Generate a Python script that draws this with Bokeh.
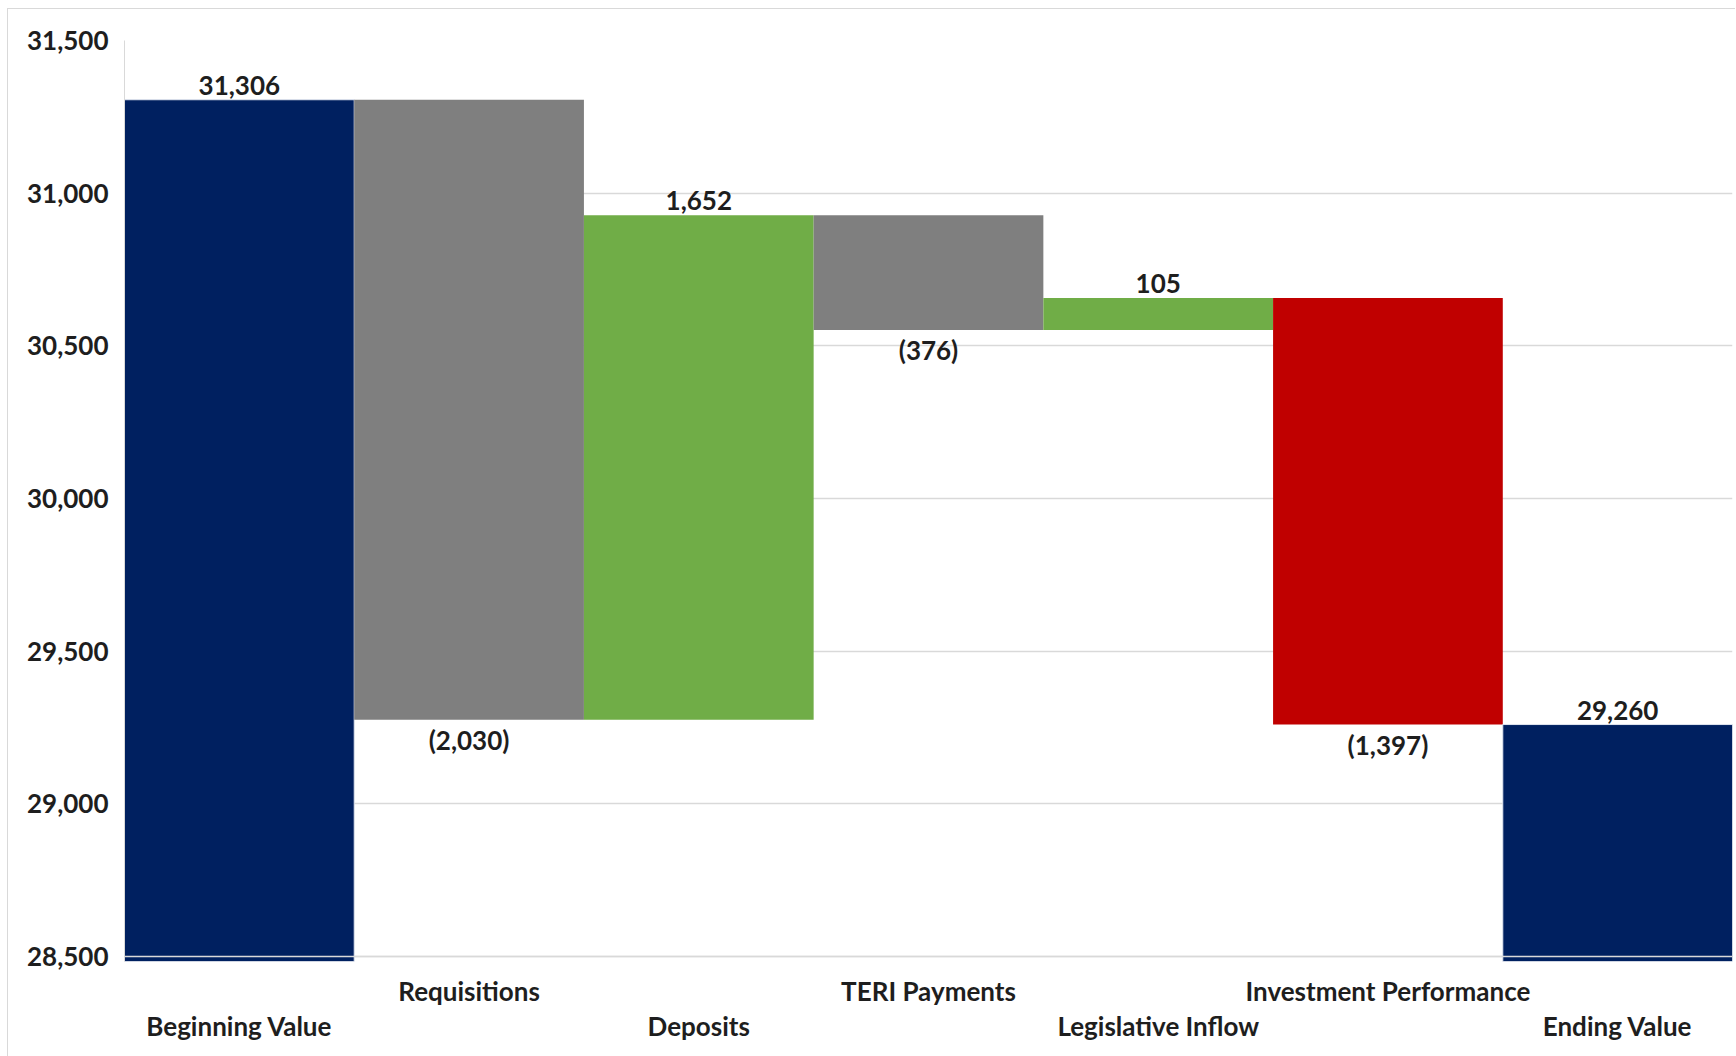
import numpy as np
from bokeh.plotting import figure
from bokeh.models import (LinearAxis, FixedTicker, NumeralTickFormatter, ColumnDataSource, Span, Range1d, Grid)
from bokeh.core.properties import value
from bokeh.embed import file_html
from bokeh.resources import INLINE

categories = ["Beginning Value", "Requisitions", "Deposits", "TERI Payments",
              "Legislative Inflow", "Investment Performance", "Ending Value"]
changes = [31306, -2030, 1652, -376, 105, -1397, 29260]
kinds = ["total", "delta", "delta", "delta", "delta", "delta", "total"]
y_ticks = [28500, 29000, 29500, 30000, 30500, 31000, 31500]

FONT = "Lato"
TXT = "#1e1e1e"
FS = "26px"
NAVY, GRAY, GREEN, RED = "#002060", "#7f7f7f", "#70ad47", "#c00000"
BASE = 28484

tops, bottoms, colors, labels, lab_y, lab_off, lab_base = [], [], [], [], [], [], []
running = 0
for i, (c, k) in enumerate(zip(changes, kinds)):
    if k == "total":
        running = c
        top, bot = c, BASE
        col = NAVY
    else:
        start = running
        running = running + c
        top, bot = max(start, running), min(start, running)
        if c >= 0:
            col = GREEN
        elif categories[i] == "Investment Performance":
            col = RED
        else:
            col = GRAY
    tops.append(top)
    bottoms.append(bot)
    colors.append(col)
    if c >= 0:
        labels.append(f"{c:,}")
        lab_y.append(top)
        lab_off.append(-5)
        lab_base.append("bottom")
    else:
        labels.append(f"({-c:,})")
        lab_y.append(bot)
        lab_off.append(4)
        lab_base.append("top")

n = len(categories)
lefts = [float(i) for i in range(n)]
rights = [float(i + 1) for i in range(n)]
centers = [i + 0.5 for i in range(n)]
line_cols = ["#dfe4ee" if k == "total" else None for k in kinds]

src = ColumnDataSource(dict(left=lefts, right=rights, top=tops, bottom=bottoms,
                            color=colors, lc=line_cols))
lsrc = ColumnDataSource(dict(x=centers, y=lab_y, text=labels, off=lab_off, base=lab_base))

p = figure(frame_width=1608, frame_height=921, output_backend="svg", toolbar_location=None,
           x_axis_type=None, y_axis_type=None,
           x_range=Range1d(0, n), y_range=Range1d(BASE, 31500),
           min_border_left=116, min_border_right=3, min_border_top=31, min_border_bottom=10)
p.margin = (8, 0, 0, 7)
p.styles = {"border-left": "1px solid #d9d9d9", "border-top": "1px solid #d9d9d9",
            "padding-bottom": "20px"}
p.outline_line_color = None
p.background_fill_color = "white"
p.border_fill_color = "white"

yax = LinearAxis(ticker=FixedTicker(ticks=y_ticks), formatter=NumeralTickFormatter(format="0,0"))
yax.axis_line_color = "#d9d9d9"
yax.major_tick_line_color = None
yax.minor_tick_line_color = None
yax.major_label_standoff = 10
yax.major_label_text_font = FONT
yax.major_label_text_font_style = "bold"
yax.major_label_text_font_size = FS
yax.major_label_text_color = TXT
p.add_layout(yax, "left")

grid = Grid(dimension=1, ticker=FixedTicker(ticks=y_ticks), grid_line_color="#d9d9d9", grid_line_width=1.5)
p.add_layout(grid)

p.quad(left="left", right="right", top="top", bottom="bottom", source=src,
       fill_color="color", line_color="lc", line_width=1)

p.add_layout(Span(location=28500, dimension="width", line_color="#d9d9d9", line_width=1.5, level="overlay"))

p.text(x="x", y="y", text="text", y_offset="off", source=lsrc, text_align="center",
       text_baseline="base", text_font=value(FONT), text_font_style="bold",
       text_font_size=FS, text_color=TXT)

upper_ticks = [centers[i] for i in range(n) if i % 2 == 1]
lower_ticks = [centers[i] for i in range(n) if i % 2 == 0]

for ticks, standoff in [(upper_ticks, 7), (lower_ticks, -6)]:
    ax = LinearAxis(ticker=FixedTicker(ticks=ticks),
                    major_label_overrides={t: categories[int(t - 0.5)] for t in ticks})
    ax.axis_line_color = None
    ax.major_tick_line_color = None
    ax.minor_tick_line_color = None
    ax.major_label_standoff = standoff
    ax.major_label_text_font = FONT
    ax.major_label_text_font_style = "bold"
    ax.major_label_text_font_size = FS
    ax.major_label_text_color = TXT
    p.add_layout(ax, "below")

open("out.html", "w").write(file_html(p, INLINE))
